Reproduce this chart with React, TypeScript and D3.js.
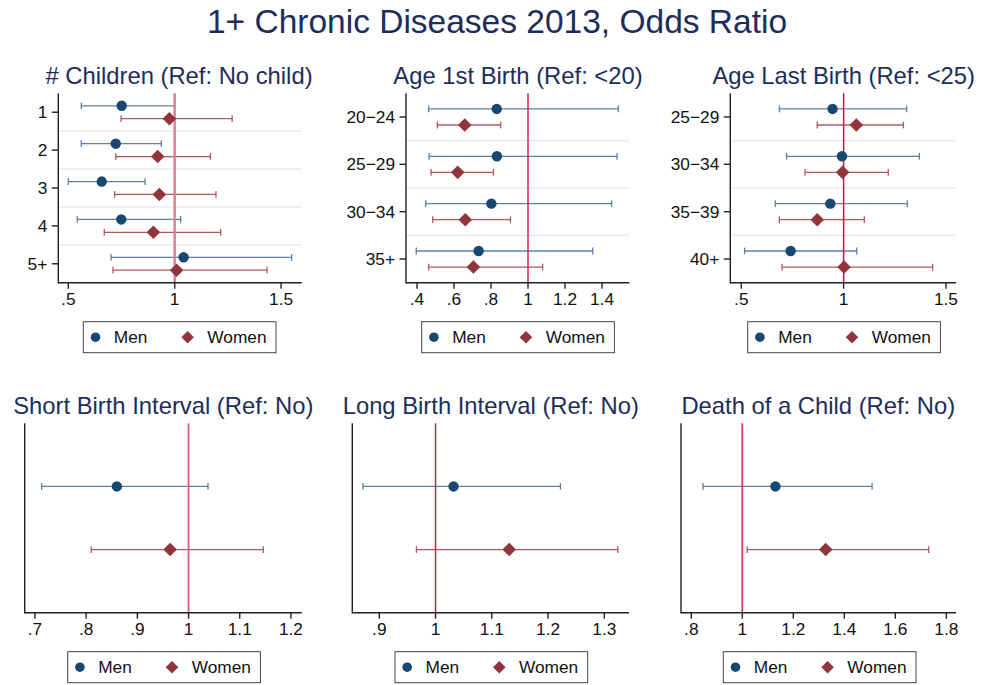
import React from "react";
import * as d3 from "d3";

// ---------- DATA ----------
const mainTitle = "1+ Chronic Diseases 2013, Odds Ratio";
const seriesNames = ["Men", "Women"];

const childCats = ["1", "2", "3", "4", "5+"];
const childMen = [0.751, 0.723, 0.657, 0.749, 1.042];
const childMenLo = [0.561, 0.561, 0.5, 0.542, 0.701];
const childMenHi = [1.0, 0.937, 0.861, 1.028, 1.55];
const childWomen = [0.975, 0.92, 0.928, 0.9, 1.009];
const childWomenLo = [0.748, 0.723, 0.718, 0.669, 0.71];
const childWomenHi = [1.27, 1.168, 1.194, 1.216, 1.434];
const childTicks = [0.5, 1, 1.5];

const firstCats = ["20−24", "25−29", "30−34", "35+"];
const firstMen = [0.831, 0.832, 0.802, 0.733];
const firstMenLo = [0.463, 0.465, 0.447, 0.396];
const firstMenHi = [1.488, 1.481, 1.452, 1.35];
const firstWomen = [0.658, 0.62, 0.661, 0.705];
const firstWomenLo = [0.51, 0.476, 0.485, 0.463];
const firstWomenHi = [0.852, 0.813, 0.905, 1.079];
const firstTicks = [0.4, 0.6, 0.8, 1, 1.2, 1.4];

const lastCats = ["25−29", "30−34", "35−39", "40+"];
const lastMen = [0.946, 0.992, 0.935, 0.741];
const lastMenLo = [0.686, 0.721, 0.666, 0.516];
const lastMenHi = [1.308, 1.37, 1.311, 1.064];
const lastWomen = [1.062, 0.995, 0.871, 1.002];
const lastWomenLo = [0.871, 0.811, 0.686, 0.699];
const lastWomenHi = [1.292, 1.218, 1.101, 1.435];
const lastTicks = [0.5, 1, 1.5];

const shortMen = [0.86, 0.713, 1.038];
const shortWomen = [0.964, 0.81, 1.146];
const shortTicks = [0.7, 0.8, 0.9, 1, 1.1, 1.2];

const longMen = [1.032, 0.871, 1.222];
const longWomen = [1.131, 0.966, 1.324];
const longTicks = [0.9, 1, 1.1, 1.2, 1.3];

const deathMen = [1.13, 0.846, 1.509];
const deathWomen = [1.327, 1.019, 1.731];
const deathTicks = [0.8, 1, 1.2, 1.4, 1.6, 1.8];

// ---------- STYLE ----------
const FONT = "'Liberation Sans', Arial, Helvetica, sans-serif";
const TITLE_COLOR = "#1d2d5b";
const MEN_MARK = "#1a476f";
const MEN_LINE = "#4d7399";
const WOMEN_MARK = "#90353b";
const WOMEN_LINE = "#a8474f";
const SEP_COLOR = "#e5edf0";

type Row = { est: number; lo: number; hi: number };

type PanelProps = {
  title: string;
  titleX: number;
  titleY: number;
  x0: number;
  x1: number;
  y0: number;
  y1: number;
  domain: [number, number];
  ticks: number[];
  cats: string[] | null;
  men: Row[];
  women: Row[];
  refColor: string;
  refWidth: number;
  legendX: number;
  legendY: number;
};

const fmt = (v: number) => {
  const s = d3.format("~g")(+v.toFixed(4));
  return s.replace(/^0\./, ".");
};

function Panel(p: PanelProps) {
  const x = d3.scaleLinear().domain(p.domain).range([p.x0, p.x1]);
  let yMen: (i: number) => number;
  let yWomen: (i: number) => number;
  let bounds: number[] = [];
  let centers: number[] = [];
  if (p.cats) {
    const band = d3
      .scaleBand<string>()
      .domain(p.cats)
      .range([p.y0, p.y1])
      .paddingInner(0)
      .paddingOuter(0);
    const bw = band.bandwidth();
    centers = p.cats.map((c) => (band(c) as number) + bw / 2);
    bounds = p.cats.slice(1).map((c) => band(c) as number);
    const off = bw * 0.17;
    yMen = (i) => centers[i] - off;
    yWomen = (i) => centers[i] + off;
  } else {
    const ys = d3.scaleLinear().domain([0, 3]).range([p.y0, p.y1]);
    yMen = () => ys(1);
    yWomen = () => ys(2);
  }
  const cap = 3.4;
  const r = 5.2;
  const dd = 6.8;

  const ci = (rows: Row[], yf: (i: number) => number, col: string, key: string) =>
    rows.map((d, i) => {
      const y = yf(i);
      return (
        <g key={key + i} stroke={col} strokeWidth={1.3} strokeOpacity={0.9}>
          <line x1={x(d.lo)} x2={x(d.hi)} y1={y} y2={y} />
          <line x1={x(d.lo)} x2={x(d.lo)} y1={y - cap} y2={y + cap} />
          <line x1={x(d.hi)} x2={x(d.hi)} y1={y - cap} y2={y + cap} />
        </g>
      );
    });

  const lx = p.legendX;
  const ly = p.legendY;
  const lh = 31;
  const lw = 192.7;

  return (
    <g>
      <text
        x={p.titleX}
        y={p.titleY}
        textAnchor="middle"
        fontSize={23.8}
        fill={TITLE_COLOR}
        fontFamily={FONT}
      >
        {p.title}
      </text>
      {bounds.map((b, i) => (
        <line key={"s" + i} x1={p.x0} x2={p.x1} y1={b} y2={b} stroke={SEP_COLOR} strokeWidth={1.6} />
      ))}
      {ci(p.men, yMen, MEN_LINE, "m")}
      {ci(p.women, yWomen, WOMEN_LINE, "w")}
      <line x1={x(1)} x2={x(1)} y1={p.y0} y2={p.y1} stroke={p.refColor} strokeWidth={p.refWidth} />
      {p.men.map((d, i) => (
        <circle key={"mc" + i} cx={x(d.est)} cy={yMen(i)} r={r} fill={MEN_MARK} />
      ))}
      {p.women.map((d, i) => {
        const cx = x(d.est);
        const cy = yWomen(i);
        return (
          <path
            key={"wd" + i}
            d={`M${cx},${cy - dd}L${cx + dd},${cy}L${cx},${cy + dd}L${cx - dd},${cy}Z`}
            fill={WOMEN_MARK}
          />
        );
      })}
      <line x1={p.x0} x2={p.x0} y1={p.y0} y2={p.y1 + 0.7} stroke="#222" strokeWidth={1.4} />
      <line x1={p.x0} x2={p.x1} y1={p.y1} y2={p.y1} stroke="#222" strokeWidth={1.4} />
      {p.ticks.map((t) => (
        <g key={"t" + t}>
          <line x1={x(t)} x2={x(t)} y1={p.y1} y2={p.y1 + 6} stroke="#222" strokeWidth={1.4} />
          <text
            x={x(t)}
            y={p.y1 + 22.5}
            textAnchor="middle"
            fontSize={17.3}
            fontFamily={FONT}
            fill="#111"
          >
            {fmt(t)}
          </text>
        </g>
      ))}
      {p.cats &&
        p.cats.map((c, i) => (
          <g key={"c" + c}>
            <line x1={p.x0 - 6.5} x2={p.x0} y1={centers[i]} y2={centers[i]} stroke="#222" strokeWidth={1.4} />
            <text
              x={p.x0 - 11}
              y={centers[i] + 6}
              textAnchor="end"
              fontSize={17.3}
              fontFamily={FONT}
              fill="#111"
            >
              {c}
            </text>
          </g>
        ))}
      <rect x={lx} y={ly} width={lw} height={lh} fill="#fff" stroke="#444" strokeWidth={1} />
      <circle cx={lx + 12.2} cy={ly + lh / 2} r={4.8} fill={MEN_MARK} />
      <text x={lx + 30.5} y={ly + lh / 2 + 6} fontSize={17.3} fontFamily={FONT} fill="#111">
        {seriesNames[0]}
      </text>
      <path d={`M${lx + 104.3},${ly + lh / 2 - 6.3}l6.3,6.3l-6.3,6.3l-6.3,-6.3Z`} fill={WOMEN_MARK} />
      <text x={lx + 124} y={ly + lh / 2 + 6} fontSize={17.3} fontFamily={FONT} fill="#111">
        {seriesNames[1]}
      </text>
    </g>
  );
}

const rows = (est: number[], lo: number[], hi: number[]): Row[] =>
  est.map((e, i) => ({ est: e, lo: lo[i], hi: hi[i] }));
const one = (a: number[]): Row[] => [{ est: a[0], lo: a[1], hi: a[2] }];

export default function App() {
  const topY0 = 93.3;
  const topY1 = 282.7;
  const botY0 = 423.3;
  const botY1 = 612.7;
  return (
    <svg width={988} height={685} style={{ position: "absolute", left: 0, top: 0, background: "#fff" }}>
      <rect width={988} height={685} fill="#fff" />
      <text x={497} y={33} textAnchor="middle" fontSize={33.5} fill={TITLE_COLOR} fontFamily={FONT}>
        {mainTitle}
      </text>
      <Panel
        title="# Children (Ref: No child)"
        titleX={179}
        titleY={84}
        x0={58.3}
        x1={301.7}
        y0={topY0}
        y1={topY1}
        domain={[0.453, 1.597]}
        ticks={childTicks}
        cats={childCats}
        men={rows(childMen, childMenLo, childMenHi)}
        women={rows(childWomen, childWomenLo, childWomenHi)}
        refColor="#e07a91"
        refWidth={2.4}
        legendX={83.3}
        legendY={321.7}
      />
      <Panel
        title="Age 1st Birth (Ref: <20)"
        titleX={518}
        titleY={84}
        x0={406}
        x1={629.3}
        y0={topY0}
        y1={topY1}
        domain={[0.3405, 1.5476]}
        ticks={firstTicks}
        cats={firstCats}
        men={rows(firstMen, firstMenLo, firstMenHi)}
        women={rows(firstWomen, firstWomenLo, firstWomenHi)}
        refColor="#d42350"
        refWidth={1.5}
        legendX={421.7}
        legendY={321.7}
      />
      <Panel
        title="Age Last Birth (Ref: <25)"
        titleX={843.7}
        titleY={84}
        x0={730.3}
        x1={956}
        y0={topY0}
        y1={topY1}
        domain={[0.4463, 1.549]}
        ticks={lastTicks}
        cats={lastCats}
        men={rows(lastMen, lastMenLo, lastMenHi)}
        women={rows(lastWomen, lastWomenLo, lastWomenHi)}
        refColor="#b81e40"
        refWidth={1.5}
        legendX={747.7}
        legendY={321.7}
      />
      <Panel
        title="Short Birth Interval (Ref: No)"
        titleX={163.3}
        titleY={413.5}
        x0={24.7}
        x1={301.7}
        y0={botY0}
        y1={botY1}
        domain={[0.68, 1.221]}
        ticks={shortTicks}
        cats={null}
        men={one(shortMen)}
        women={one(shortWomen)}
        refColor="#e05a7a"
        refWidth={1.8}
        legendX={67.7}
        legendY={651.7}
      />
      <Panel
        title="Long Birth Interval (Ref: No)"
        titleX={490.8}
        titleY={413.5}
        x0={352.3}
        x1={629}
        y0={botY0}
        y1={botY1}
        domain={[0.852, 1.3439]}
        ticks={longTicks}
        cats={null}
        men={one(longMen)}
        women={one(longWomen)}
        refColor="#c8203f"
        refWidth={1.5}
        legendX={395}
        legendY={651.7}
      />
      <Panel
        title="Death of a Child (Ref: No)"
        titleX={818.3}
        titleY={413.5}
        x0={681}
        x1={956}
        y0={botY0}
        y1={botY1}
        domain={[0.7596, 1.838]}
        ticks={deathTicks}
        cats={null}
        men={one(deathMen)}
        women={one(deathWomen)}
        refColor="#d83358"
        refWidth={1.7}
        legendX={723.3}
        legendY={651.7}
      />
    </svg>
  );
}
